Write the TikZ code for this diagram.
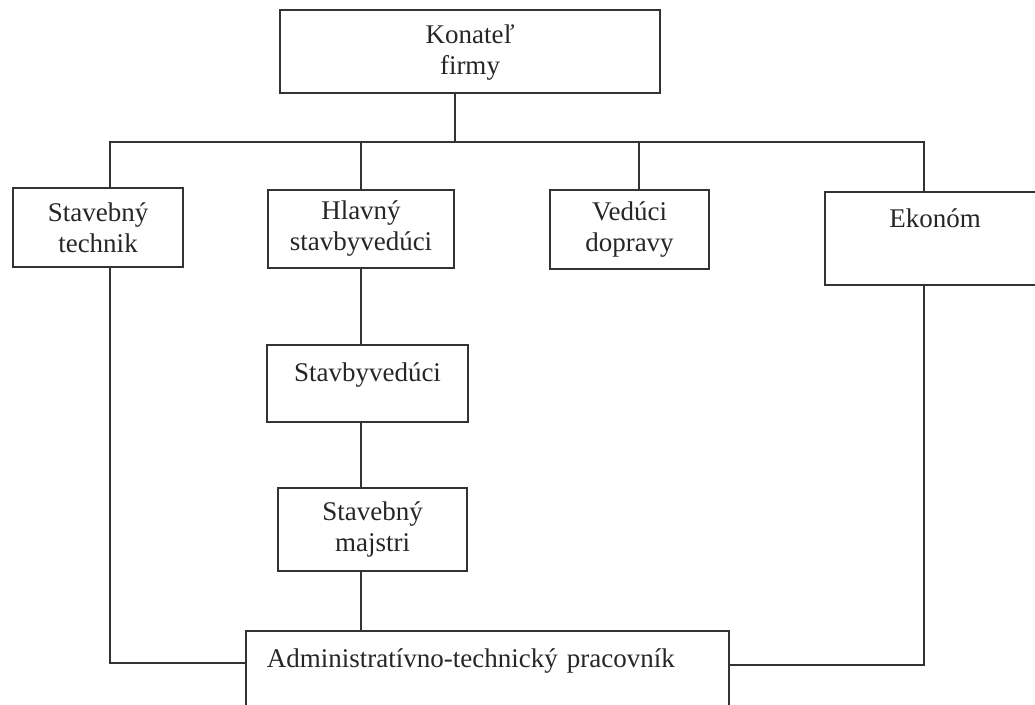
\documentclass[tikz,border=0pt]{standalone}
\usepackage{fontspec}
\setmainfont{Liberation Serif}
\usepackage{tikz}
\usetikzlibrary{positioning}
\tikzset{%
  unit/.style={x=0.5pt,y=-0.5pt},
  box/.style={draw=black!80,line width=0.9pt,align=center,inner sep=0pt,
    text=black!85,font=\fontsize{13.5}{15.5}\selectfont},
  top/.style={inner ysep=0pt,text height=#1},
  link/.style={draw=black!80,line width=0.9pt}
}

\begin{document}
\begin{tikzpicture}[unit]
  \useasboundingbox (0,0) rectangle (1035,705);
  \clip (0,0) rectangle (1035,705);

  \node[box,minimum width=190pt,minimum height=41.5pt,text depth=2pt] (kon) at (470,51.5) {Konateľ\\firmy};

  \node[box,minimum width=85pt,minimum height=39.5pt] (tech) at (98,227.5) {Stavebný\\technik};
  \node[box,minimum width=93pt,minimum height=39pt] (hlav) at (361,229) {Hlavný\\stavbyvedúci};
  \node[box,minimum width=79.5pt,minimum height=39.5pt] (ved) at (629.5,229.5) {Vedúci\\dopravy};
  \node[box,minimum width=110pt,top=18pt,text depth=28.5pt] (eko) at (935,238.5) {Ekonóm};

  \node[box,minimum width=100.5pt,top=18.5pt,text depth=20pt] (stv) at (367.5,383.5) {Stavbyvedúci};
  \node[box,minimum width=94.5pt,minimum height=41.5pt] (maj) at (372.5,529.5) {Stavebný\\majstri};

  \node[box,anchor=north west,text width=220.5pt,align=left,inner xsep=10.5pt,
    top=18.5pt,text depth=36.5pt] (adm) at (245,630) {Administratívno-technický pracovník};

  % horizontal bar under the top box
  \coordinate (barL) at (110,142);
  \coordinate (barR) at (924,142);
  \draw[link] ([xshift=-7.5pt]kon.south) -- ([xshift=-7.5pt]kon.south |- barL);
  \draw[link] (tech.north -| barL) |- (barR) -- (eko.north -| barR);
  \draw[link] (hlav.north) -- (hlav.north |- barL);
  \draw[link] ([xshift=4.75pt]ved.north) -- ([xshift=4.75pt]ved.north |- barL);

  % chain down the middle
  \draw[link] (hlav.south) -- (hlav.south |- stv.north);
  \draw[link] (hlav.south |- stv.south) -- (hlav.south |- maj.north);
  \draw[link] (hlav.south |- maj.south) -- (hlav.south |- adm.north);

  % side lines into the bottom box
  \draw[link] (tech.south -| barL) |- ([yshift=-16.5pt]adm.north west);
  \draw[link] (eko.south -| barR) |- ([yshift=-17.5pt]adm.north east);
\end{tikzpicture}
\end{document}
